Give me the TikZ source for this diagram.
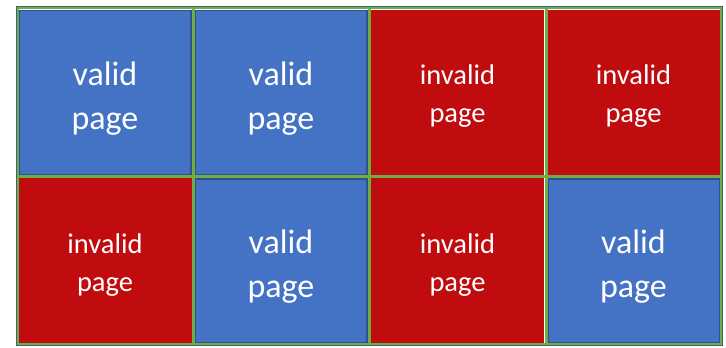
\documentclass[tikz,border=0pt]{standalone}
\usepackage{fontspec}
\setmainfont{Carlito}
\usepackage{tikz}
\usetikzlibrary{positioning}

\definecolor{pageblue}{HTML}{4472C4}
\definecolor{pageblueline}{HTML}{2F528F}
\definecolor{pagered}{HTML}{C00C0E}
\definecolor{gridgreen}{HTML}{70AD47}
\definecolor{framegrey}{HTML}{41607E}

\tikzset{
  page/.style={line width=1.5pt, inner sep=0pt,
    minimum width=171.5pt, minimum height=164pt},
  validpage/.style={page, fill=pageblue, draw=pageblueline,
    label={[align=center, text=white, yshift=-6pt, font=\fontsize{34}{44}\selectfont]center:valid\\page}},
  invalidpage/.style={page, fill=pagered, draw=pagered,
    label={[align=center, text=white, yshift=-4pt, font=\fontsize{28.5}{38}\selectfont]center:invalid\\page}},
  gridline/.style={gridgreen, line width=3pt}
}

\begin{document}
\begin{tikzpicture}[x=1pt,y=1pt]
\useasboundingbox (0,0) rectangle (726,348);
\fill[white] (0,0) rectangle (726,348);
% top row
\node[validpage] (p1) at (105,255.5) {};
\node[validpage] (p2) at (281,255.5) {};
\node[invalidpage] (p3) at (457.5,255.5) {};
\node[invalidpage] (p4) at (633.5,255.5) {};
% bottom row
\node[invalidpage] (p5) at (105,87) {};
\node[validpage] (p6) at (281,87) {};
\node[invalidpage] (p7) at (457.5,87) {};
\node[validpage] (p8) at (633.5,87) {};
% green grid
\draw[gridline] (17,171) -- (721,171);
\foreach \x in {193,369,546} \draw[gridline] (\x,340) -- (\x,3);
\draw[gridline] (17,3) rectangle (721,340);
\draw[framegrey, line width=1pt] (16,2) rectangle (722,341);
\end{tikzpicture}
\end{document}
